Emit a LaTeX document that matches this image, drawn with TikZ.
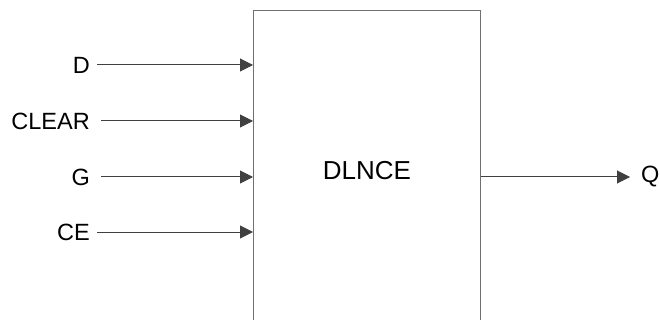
\documentclass[tikz,border=0pt]{standalone}
\usepackage{fontspec}
\setmainfont{Liberation Sans}
\usetikzlibrary{arrows.meta}
\definecolor{wire}{HTML}{404040}
\definecolor{frame}{HTML}{707070}
\begin{document}
\begin{tikzpicture}[x=1pt, y=-1pt,
  pin/.style={inner sep=0pt, font=\fontsize{23.5}{28}\selectfont},
  sig/.style={draw=wire, line width=1pt, -{Triangle[length=13pt, width=13pt]}}]
  \useasboundingbox (0,0) rectangle (660,320);
  \clip (0,0) rectangle (660,320);
  % block
  \node[draw=frame, line width=1pt, minimum width=227pt, minimum height=320pt,
        anchor=north west, font=\fontsize{26}{31}\selectfont] (blk) at (253,10) {DLNCE};
  % inputs
  \node[pin, anchor=east] (d) at (90,65) {D};
  \node[pin, anchor=east] (clr) at (90,121) {CLEAR};
  \node[pin, anchor=east] (g) at (90,177) {G};
  \node[pin, anchor=east] (ce) at (90,232) {CE};
  \draw[sig] ([xshift=7pt]d.east) -- (d -| blk.west);
  \draw[sig] ([xshift=11pt]clr.east) -- (clr -| blk.west);
  \draw[sig] ([xshift=11pt]g.east) -- (g -| blk.west);
  \draw[sig] ([xshift=7pt]ce.east) -- (ce -| blk.west);
  % output
  \node[pin, anchor=west] (q) at (641,177) {Q};
  \draw[sig] (q -| blk.east) -- ([xshift=-11pt]q.west);
\end{tikzpicture}
\end{document}
